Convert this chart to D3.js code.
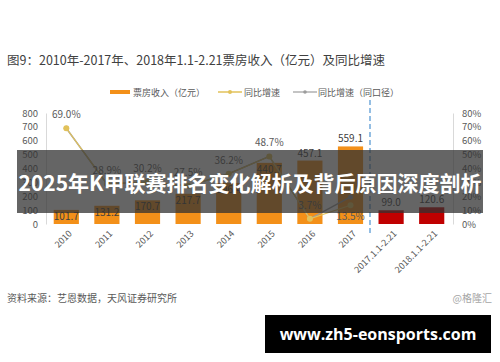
<!DOCTYPE html>
<html>
<head>
<meta charset="utf-8">
<script src="https://cdn.jsdelivr.net/npm/d3@7"></script>
<style>
  html, body { margin: 0; padding: 0; background: #ffffff; }
  svg { display: block; }
</style>
</head>
<body>
<svg id="chart" width="500" height="362"></svg>
<script>
const categories = ['2010', '2011', '2012', '2013', '2014', '2015', '2016', '2017', '2017.1.1-2.21', '2018.1.1-2.21'];
const boxOffice = [101.7, 131.2, 170.7, 217.7, 296.4, 440.7, 457.1, 559.1, 99.0, 120.6];
const growth = [0.690, 0.289, 0.302, 0.275, 0.362, 0.487, 0.037, 0.135, null, null];
const growthSame = [0.690, 0.289, 0.302, 0.275, 0.362, 0.487, 0.037, 0.195, null, null];
const leftTicks = [0, 100, 200, 300, 400, 500, 600, 700, 800];
const rightTicks = [0, 0.1, 0.2, 0.3, 0.4, 0.5, 0.6, 0.7, 0.8];
const legendItems = ['票房收入（亿元）', '同比增速', '同比增速（同口径）'];

const FONT = '"Noto Sans CJK SC", "Microsoft YaHei", sans-serif';
const ORANGE = '#f39019';
const RED = '#c00000';
const YELLOW = '#e2c25a';
const GREY = '#9c9c9c';
const TEXT = '#595959';

const root = d3.select('#chart');

const x = d3.scaleBand()
  .domain(categories)
  .range([46, 452])
  .paddingInner(0.38)
  .paddingOuter(0.19);

const y = d3.scaleLinear().domain([0, 800]).range([224, 113]);
const yR = d3.scaleLinear().domain([0, 0.8]).range([224, 113]);

// title
root.append('text')
  .attr('x', 7)
  .attr('y', 65)
  .attr('fill', '#404040')
  .attr('font-size', 12.5)
  .attr('font-family', FONT)
  .text('图9：2010年-2017年、2018年1.1-2.21票房收入（亿元）及同比增速');

// legend
const legend = root.append('g').attr('font-family', FONT).attr('font-size', 9).attr('fill', TEXT);
legend.append('rect').attr('x', 110).attr('y', 90).attr('width', 20).attr('height', 4).attr('fill', ORANGE);
legend.append('text').attr('x', 133).attr('y', 95.5).text(legendItems[0]);
legend.append('line').attr('x1', 218).attr('x2', 242).attr('y1', 92).attr('y2', 92)
  .attr('stroke', YELLOW).attr('stroke-width', 1.5);
legend.append('circle').attr('cx', 230).attr('cy', 92).attr('r', 2).attr('fill', YELLOW);
legend.append('text').attr('x', 244).attr('y', 95.5).text(legendItems[1]);
legend.append('line').attr('x1', 293).attr('x2', 317).attr('y1', 92).attr('y2', 92)
  .attr('stroke', GREY).attr('stroke-width', 1.2);
legend.append('circle').attr('cx', 305).attr('cy', 92).attr('r', 1.8).attr('fill', GREY);
legend.append('text').attr('x', 318).attr('y', 95.5).text(legendItems[2]);

// axes
const leftAxis = root.append('g')
  .attr('transform', 'translate(46,0)')
  .call(d3.axisLeft(y).tickValues(leftTicks).tickSize(0).tickPadding(8));
const rightAxis = root.append('g')
  .attr('transform', 'translate(453,0)')
  .call(d3.axisRight(yR).tickValues(rightTicks).tickSize(0).tickPadding(9).tickFormat(d3.format('.0%')));
[leftAxis, rightAxis].forEach((axis) => {
  axis.select('.domain').attr('stroke', '#d9d9d9');
  axis.selectAll('text')
    .attr('fill', TEXT)
    .attr('font-size', 9.5)
    .attr('font-family', FONT);
});

const bottomAxis = root.append('g')
  .attr('transform', 'translate(0,224)')
  .call(d3.axisBottom(x).tickSize(0));
bottomAxis.select('.domain').remove();
bottomAxis.selectAll('text')
  .attr('fill', TEXT)
  .attr('font-size', 9)
  .attr('font-family', FONT)
  .attr('text-anchor', 'end')
  .attr('y', 0)
  .attr('dy', '0.35em')
  .attr('transform', 'translate(4,8) rotate(-45)');

// bars
const barData = categories.map((c, i) => ({ c, v: boxOffice[i], i }));
root.append('g').selectAll('rect')
  .data(barData)
  .join('rect')
  .attr('x', (d) => x(d.c))
  .attr('y', (d) => y(d.v))
  .attr('width', x.bandwidth())
  .attr('height', (d) => y(0) - y(d.v))
  .attr('fill', (d) => (d.i >= 8 ? RED : ORANGE));

root.append('g').selectAll('text')
  .data(barData)
  .join('text')
  .attr('x', (d) => x(d.c) + x.bandwidth() / 2)
  .attr('y', (d) => (d.i <= 5 ? y(d.v) + 10 : y(d.v) - 4))
  .attr('text-anchor', 'middle')
  .attr('fill', '#404040')
  .attr('font-size', 10)
  .attr('font-family', FONT)
  .text((d) => d.v.toFixed(1));

// divider
root.append('line')
  .attr('x1', 370).attr('x2', 370)
  .attr('y1', 100).attr('y2', 234)
  .attr('stroke', '#5b9bd5')
  .attr('stroke-width', 1.3)
  .attr('stroke-dasharray', '5,3');

// lines
const cx = (c) => x(c) + x.bandwidth() / 2;
function drawLine(values, color, width, r) {
  const pts = categories.map((c, i) => ({ c, v: values[i] })).filter((d) => d.v !== null);
  root.append('path')
    .datum(pts)
    .attr('fill', 'none')
    .attr('stroke', color)
    .attr('stroke-width', width)
    .attr('d', d3.line().x((d) => cx(d.c)).y((d) => yR(d.v)));
  root.append('g').selectAll('circle')
    .data(pts)
    .join('circle')
    .attr('cx', (d) => cx(d.c))
    .attr('cy', (d) => yR(d.v))
    .attr('r', r)
    .attr('fill', color);
}
drawLine(growthSame, GREY, 1.5, 2.5);
drawLine(growth, YELLOW, 1.2, 3);

const growthPts = categories.map((c, i) => ({ c, v: growth[i], i })).filter((d) => d.v !== null);
root.append('g').selectAll('text')
  .data(growthPts)
  .join('text')
  .attr('x', (d) => cx(d.c))
  .attr('y', (d) => (d.i === 7 ? yR(d.v) + 15 : yR(d.v) - 10))
  .attr('text-anchor', 'middle')
  .attr('fill', TEXT)
  .attr('font-size', 10)
  .attr('font-family', FONT)
  .text((d) => d3.format('.1%')(d.v));

// source
root.append('text')
  .attr('x', 7)
  .attr('y', 302)
  .attr('fill', TEXT)
  .attr('font-size', 10)
  .attr('font-family', FONT)
  .text('资料来源：艺恩数据，天风证券研究所');
root.append('text')
  .attr('x', 492)
  .attr('y', 302)
  .attr('text-anchor', 'end')
  .attr('fill', '#a6a6a6')
  .attr('font-size', 10)
  .attr('font-family', FONT)
  .text('@格隆汇');

// overlay band
root.append('rect')
  .attr('x', 17).attr('y', 150)
  .attr('width', 466).attr('height', 63)
  .attr('fill', '#323232')
  .attr('opacity', 0.75);
root.append('text')
  .attr('x', 250)
  .attr('y', 191)
  .attr('text-anchor', 'middle')
  .attr('fill', '#ffffff')
  .attr('font-size', 21)
  .attr('font-weight', 700)
  .attr('font-family', FONT)
  .text('2025年K甲联赛排名变化解析及背后原因深度剖析');

// site badge
root.append('rect')
  .attr('x', 265).attr('y', 315)
  .attr('width', 226).attr('height', 38)
  .attr('fill', '#000000');
root.append('text')
  .attr('x', 378)
  .attr('y', 340)
  .attr('text-anchor', 'middle')
  .attr('fill', '#ffffff')
  .attr('font-size', 16)
  .attr('font-weight', 700)
  .attr('font-family', '"Open Sans", sans-serif')
  .text('www.zh5-eonsports.com');
</script>
</body>
</html>
